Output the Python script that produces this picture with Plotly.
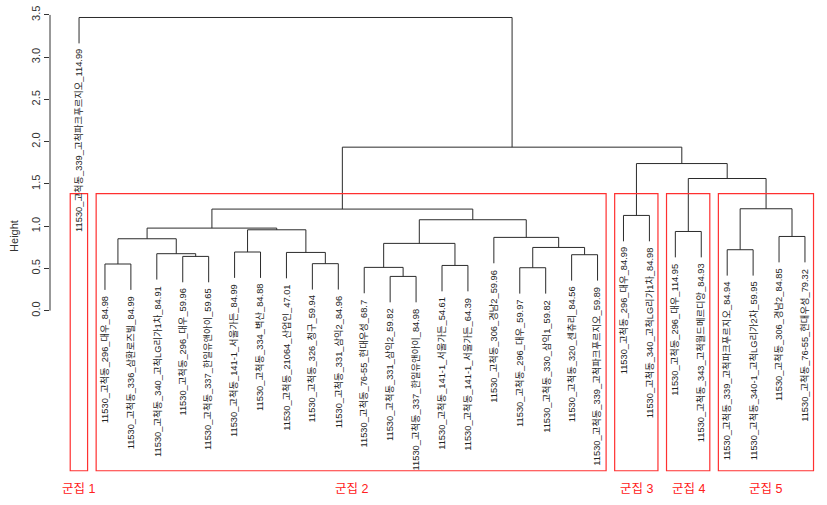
import plotly.graph_objects as go

# ---------------- data ----------------
leaf_labels = [
    "11530_고척동_339_고척파크푸르지오_114.99",
    "11530_고척동_296_대우_84.98",
    "11530_고척동_336_삼환로즈빌_84.99",
    "11530_고척동_340_고척LG리가1차_84.91",
    "11530_고척동_296_대우_59.96",
    "11530_고척동_337_한일유앤아이_59.65",
    "11530_고척동_141-1_서울가든_84.99",
    "11530_고척동_334_벽산_84.88",
    "11530_고척동_21064_산업인_47.01",
    "11530_고척동_326_청구_59.94",
    "11530_고척동_331_삼익2_84.96",
    "11530_고척동_76-55_현대우성_68.7",
    "11530_고척동_331_삼익2_59.82",
    "11530_고척동_337_한일유앤아이_84.98",
    "11530_고척동_141-1_서울가든_54.61",
    "11530_고척동_141-1_서울가든_64.39",
    "11530_고척동_306_경남2_59.96",
    "11530_고척동_296_대우_59.97",
    "11530_고척동_330_삼익1_59.82",
    "11530_고척동_320_센츄리_84.56",
    "11530_고척동_339_고척파크푸르지오_59.89",
    "11530_고척동_296_대우_84.99",
    "11530_고척동_340_고척LG리가1차_84.98",
    "11530_고척동_296_대우_114.95",
    "11530_고척동_343_고척월드메르디앙_84.93",
    "11530_고척동_339_고척파크푸르지오_84.94",
    "11530_고척동_340-1_고척LG리가2차_59.95",
    "11530_고척동_306_경남2_84.85",
    "11530_고척동_76-55_현대우성_79.32",
]

# hclust-style merge table (negative = leaf number, positive = earlier merge row)
merge_left = [-13, -12, -2, -5, -4, 3, -7, -10, -9, 7, 6, -15, 2, -18, -20, 14,
              -17, 13, 11, -22, -24, -26, -28, 22, 21, 20, 19, -1]
merge_right = [-14, 1, -3, -6, 4, 5, -8, -11, 8, 9, 10, -16, 12, -19, -21, 15,
               16, 17, 18, -23, -25, -27, -29, 23, 24, 25, 26, 27]
merge_height = [0.405, 0.512, 0.552, 0.642, 0.674, 0.851, 0.694, 0.556, 0.689,
                0.957, 0.977, 0.535, 0.796, 0.508, 0.662, 0.748, 0.867, 1.076,
                1.202, 1.127, 0.937, 0.721, 0.878, 1.206, 1.564, 1.741, 1.935, 3.47]

cluster_names = ["군집 1", "군집 2", "군집 3", "군집 4", "군집 5"]
cluster_sizes = [1, 20, 2, 2, 4]

y_ticks = [0.0, 0.5, 1.0, 1.5, 2.0, 2.5, 3.0, 3.5]

# ---------------- geometry ----------------
hang = 0.1 * (max(merge_height) - min(merge_height))
n_leaves = len(leaf_labels)

node_x = []
xs, ys = [], []
leaf_end = {}


def child_pos(c, parent_h):
    if c < 0:
        lx = -c
        leaf_end[-c] = parent_h - hang
        return lx, parent_h - hang
    return node_x[c - 1], merge_height[c - 1]


for i in range(len(merge_height)):
    h = merge_height[i]
    lx, ly = child_pos(merge_left[i], h)
    rx, ry = child_pos(merge_right[i], h)
    node_x.append((lx + rx) / 2)
    xs += [lx, lx, rx, rx, None]
    ys += [ly, h, h, ry, None]

y_min = -1.895
y_max = 3.677

fig = go.Figure()
fig.add_trace(go.Scatter(x=xs, y=ys, mode="lines",
                         line=dict(color="#2b2b2b", width=1),
                         hoverinfo="skip", showlegend=False))

font_fam = "Liberation Sans, Arial, Noto Sans CJK KR, sans-serif"
annotations = []
for j, lab in enumerate(leaf_labels, start=1):
    annotations.append(dict(x=j, y=leaf_end[j], xref="x", yref="y", text=lab,
                            showarrow=False, textangle=-90, xanchor="center",
                            yanchor="top", yshift=-4,
                            font=dict(size=9.3, color="#222", family=font_fam)))

# cluster rectangles (rect.hclust, k = 5)
sorted_h = sorted(merge_height, reverse=True)
k = len(cluster_sizes)
rect_top = (sorted_h[k - 2] + sorted_h[k - 1]) / 2
shapes = []
cum = 0
for name, size in zip(cluster_names, cluster_sizes):
    x0 = cum + 0.66
    x1 = cum + size + 0.33
    shapes.append(dict(type="rect", xref="x", yref="y", x0=x0, x1=x1,
                       y0=y_min, y1=rect_top,
                       line=dict(color="#ff3030", width=1.2)))
    annotations.append(dict(x=(x0 + x1) / 2, y=-0.035, xref="x", yref="paper",
                            text=name, showarrow=False, yanchor="middle",
                            xanchor="center",
                            font=dict(size=12.5, color="#ff2020", family=font_fam)))
    cum += size

# y axis line only over the tick range
shapes.append(dict(type="line", xref="paper", yref="y", x0=0, x1=0,
                   y0=y_ticks[0], y1=y_ticks[-1],
                   line=dict(color="#333", width=1)))

fig.update_layout(
    width=827, height=505,
    margin=dict(l=50, r=0, t=0, b=33),
    paper_bgcolor="white", plot_bgcolor="white",
    shapes=shapes, annotations=annotations,
    font=dict(family=font_fam, color="#222"),
    xaxis=dict(range=[-0.12, 29.85], visible=False, fixedrange=True),
    yaxis=dict(range=[-1.91, y_max], tickvals=y_ticks,
               ticktext=[f"{v:.1f}" for v in y_ticks],
               ticks="outside", ticklen=5, tickcolor="#333", tickangle=-90,
               showgrid=False, zeroline=False, showline=False,
               tickfont=dict(size=11, color="#333"),
               title=dict(text="Height", font=dict(size=11, color="#333"),
                          standoff=8)),
)

fig.write_html("out.html")
